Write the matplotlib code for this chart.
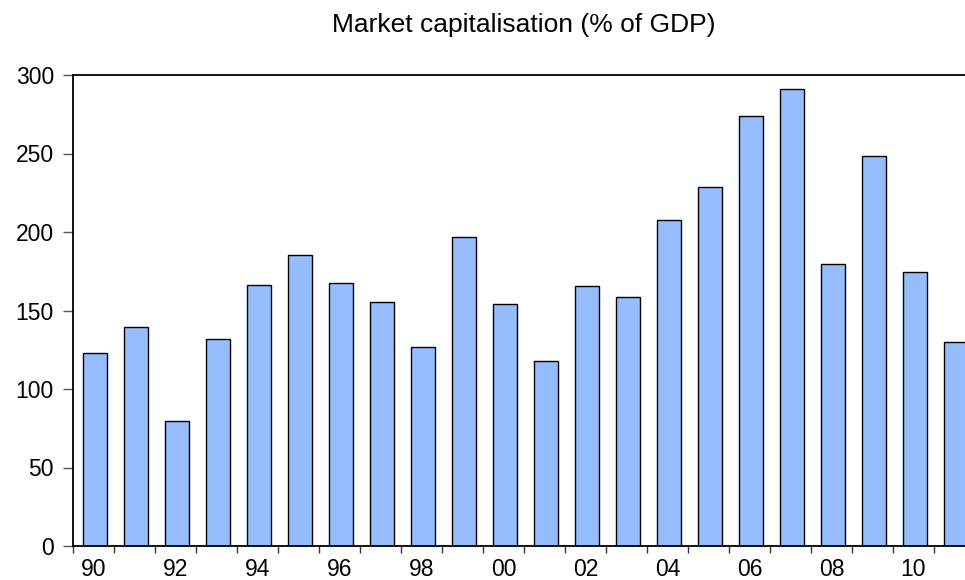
import matplotlib
matplotlib.use("Agg")
import matplotlib.pyplot as plt
from matplotlib.ticker import FixedLocator, NullFormatter, FixedFormatter

years = list(range(1990, 2012))
values = [123, 139.5, 79.3, 132, 166, 185.5, 167.7, 155.6, 126.5, 196.8, 154.1,
          117.6, 165.8, 158.8, 207.8, 228.9, 274, 291, 179.6, 248.2, 174.7, 129.9]
label_years = [1990, 1992, 1994, 1996, 1998, 2000, 2002, 2004, 2006, 2008, 2010]
tick_labels = ["90", "92", "94", "96", "98", "00", "02", "04", "06", "08", "10"]
yticks = [0, 50, 100, 150, 200, 250, 300]

plt.rcParams['font.family'] = ['Liberation Sans', 'DejaVu Sans']

W, H = 965, 580
fig = plt.figure(figsize=(W / 100, H / 100), dpi=100)
left, right_px, top_px, bottom_px = 73, 975, 75, 546
ax = fig.add_axes([left / W, (H - bottom_px) / H, (right_px - left) / W, (bottom_px - top_px) / H])

pos = [y - 1990 for y in years]
ax.bar([p + 0.04 for p in pos], values, width=0.58, color='#96BEFF',
       edgecolor='black', linewidth=1.0, zorder=2)

ax.set_xlim(-0.5, len(years) - 0.5)
ax.set_ylim(0, 300)

ax.xaxis.set_major_locator(FixedLocator([p - 0.5 for p in range(len(years))]))
ax.xaxis.set_major_formatter(NullFormatter())
ax.xaxis.set_minor_locator(FixedLocator([y - 1990 for y in label_years]))
ax.xaxis.set_minor_formatter(FixedFormatter(tick_labels))
ax.tick_params(axis='x', which='major', direction='out', length=5, width=1, color='#333333')
ax.tick_params(axis='x', which='minor', length=0, labelsize=16.5, pad=9)

ax.set_yticks(yticks)
ax.tick_params(axis='y', direction='out', length=7.2, width=1, color='#555555', labelsize=16.5, pad=6.5)

for s in ['left', 'bottom', 'top', 'right']:
    ax.spines[s].set_linewidth(1.3)
    ax.spines[s].set_color('black')

fig.text(524 / W, 1 - 32 / H, "Market capitalisation (% of GDP)", ha='center', va='baseline', fontsize=19)

fig.savefig("out.png", dpi=100)
